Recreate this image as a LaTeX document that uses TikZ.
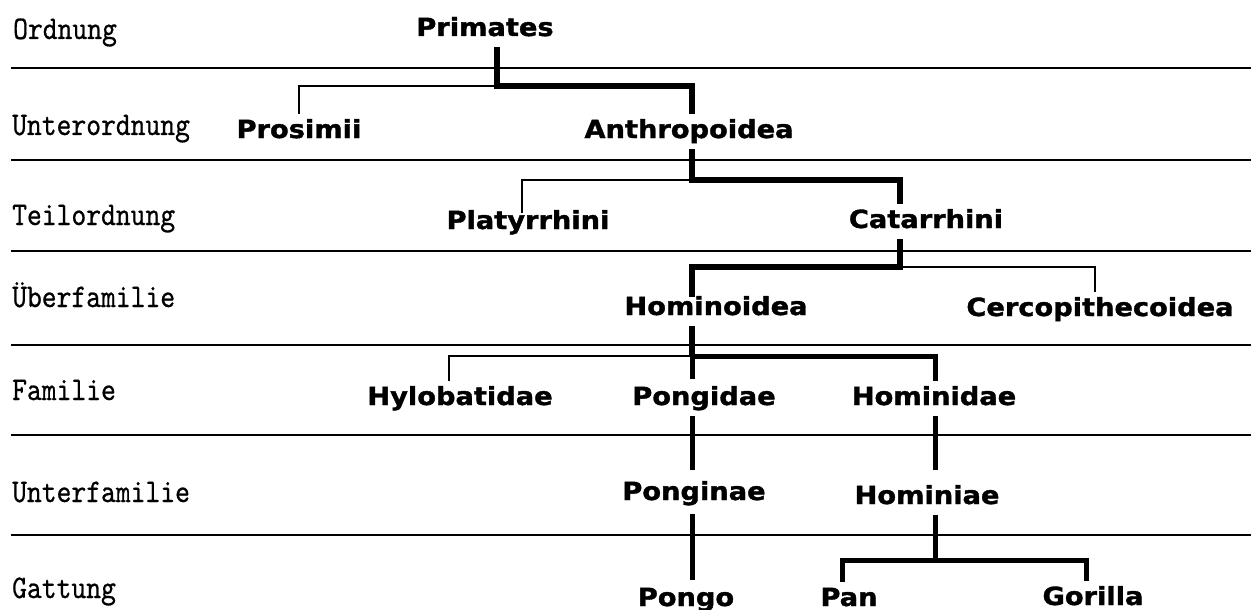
\documentclass[tikz,border=0pt]{standalone}
\usepackage{fontspec}
\newfontfamily\taxfont{DejaVu Sans}[FakeStretch=1.09,BoldFeatures={FakeBold=1.4}]
\newfontfamily\rankfont{lmmono10-regular.otf}[FakeStretch=0.855,FakeBold=0.6]
\begin{document}
\begin{tikzpicture}[x=1pt,y=-1pt,
  taxon/.style={font=\taxfont\bfseries\fontsize{25}{28}\selectfont, anchor=base,
    inner xsep=0pt, inner ysep=6pt, text height=18pt, text depth=5pt},
  rank/.style={font=\rankfont\fontsize{33}{36}\selectfont, anchor=base west, inner sep=0pt},
  rowline/.style={line width=2.4pt},
  heavy/.style={line width=6.5pt, line join=miter},
  medium/.style={line width=5pt, line join=miter},
  light/.style={line width=2.3pt, line join=miter}]
\useasboundingbox (0,0) rectangle (1251,610);

% rank labels
\node[rank] (rO) at (13,39) {Ordnung};
\node[rank] (rU) at (12,135) {Unterordnung};
\node[rank] (rT) at (12,225) {Teilordnung};
\node[rank] (rUe) at (12,307) {Überfamilie};
\node[rank] (rF) at (12,400) {Familie};
\node[rank] (rUf) at (12,502) {Unterfamilie};
\node[rank] (rG) at (12,598) {Gattung};

% row separators
\foreach \yy in {68,160,251,345,435,535}
  \draw[rowline] (11,\yy) -- (1251,\yy);

% taxa
\node[taxon] (prim)  at (485,36)  {Primates};
\node[taxon] (pros)  at (299,138) {Prosimii};
\node[taxon] (anth)  at (689,138) {Anthropoidea};
\node[taxon] (plat)  at (528,229) {Platyrrhini};
\node[taxon] (cat)   at (926,228) {Catarrhini};
\node[taxon] (hoid)  at (716,315) {Hominoidea};
\node[taxon] (cerc)  at (1100,316) {Cercopithecoidea};
\node[taxon] (hylo)  at (460,405) {Hylobatidae};
\node[taxon] (pgd)   at (704,405) {Pongidae};
\node[taxon] (hmd)   at (934,405) {Hominidae};
\node[taxon] (pgn)   at (694,500) {Ponginae};
\node[taxon] (hmn)   at (927,504) {Hominiae};
\node[taxon] (pongo) at (686,606) {Pongo};
\node[taxon] (pan)   at (849,606) {Pan};
\node[taxon] (gor)   at (1093,605) {Gorilla};

% junctions
\coordinate (j1) at (497,86);
\coordinate (j2) at (692,180);
\coordinate (j3) at (900,267);
\coordinate (j4) at (692,356);
\coordinate (j5) at (935,560);

% connectors
\draw[heavy] ([xshift=12pt]prim.south) -- (j1) -| ([xshift=3pt]anth.north);
\draw[light] (j1) -| (pros.north);
\draw[heavy] ([xshift=3pt]anth.south) -- (j2) -| ([xshift=-26pt]cat.north);
\draw[light] (j2) -| ([xshift=-6pt,yshift=-8pt]plat.north);
\draw[heavy] ([xshift=-26pt]cat.south) -- (j3) -| ([xshift=-24pt,yshift=-6pt]hoid.north);
\draw[light] (j3) -| ([xshift=-5pt]cerc.north);
\draw[heavy] ([xshift=-24pt]hoid.south) -- (j4);
\draw[medium] (j4) -| ([xshift=1pt]hmd.north);
\draw[medium] (j4) -- ([xshift=-12pt,yshift=2pt]pgd.north);
\draw[light] (j4) -| ([xshift=-11pt]hylo.north);
\draw[medium] ([xshift=-12pt]pgd.south) -- ([xshift=-2pt,yshift=6pt]pgn.north);
\draw[medium] ([xshift=1pt]hmd.south) -- ([xshift=8pt,yshift=10pt]hmn.north);
\draw[medium] ([xshift=-2pt,yshift=-3pt]pgn.south) -- ([xshift=6pt,yshift=2pt]pongo.north);
\draw[medium] ([xshift=8pt]hmn.south) -- (j5);
\draw[medium] (j5) -| ([xshift=-7pt]pan.north);
\draw[medium] (j5) -| ([xshift=-7pt]gor.north);
\end{tikzpicture}
\end{document}
